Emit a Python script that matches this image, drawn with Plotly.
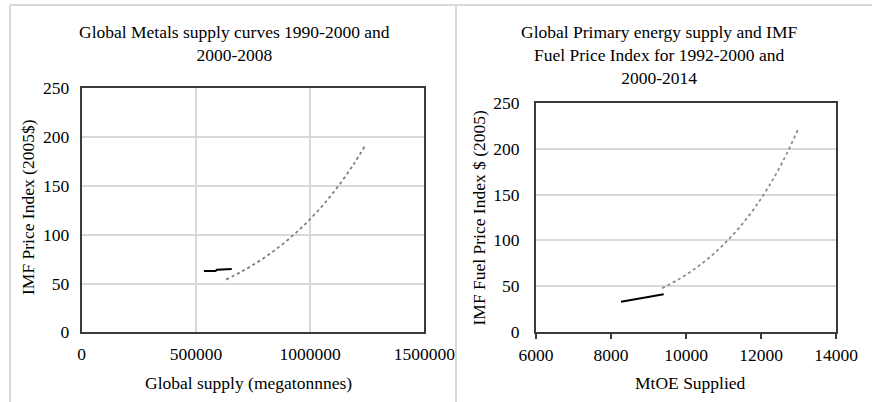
import plotly.graph_objects as go

W, H = 872, 402

# ---- Data: left panel (metals) ----
metals_early_x = [535000, 586000, 592000, 657000]
metals_early_y = [62.8, 62.8, 64.0, 64.8]
metals_late_x = [632000, 700000, 770000, 840000, 910000, 980000, 1050000, 1120000, 1190000, 1243000]
metals_late_y = [54, 62.2, 71.9, 83.2, 96.2, 111.2, 128.6, 148.7, 172, 192]

# ---- Data: right panel (energy) ----
energy_early_x = [8267, 9405]
energy_early_y = [32.8, 40.9]
energy_late_x = [9360, 9800, 10200, 10600, 11000, 11400, 11800, 12200, 12600, 13005]
energy_late_y = [47.5, 57.2, 67.8, 80.4, 95.3, 112.9, 133.8, 158.5, 187.8, 223]

left_xticks = [0, 500000, 1000000, 1500000]
left_xticklabels = ["0", "500000", "1000000", "1500000"]
yticks = [0, 50, 100, 150, 200, 250]
right_xticks = [6000, 8000, 10000, 12000, 14000]
right_xticklabels = ["6000", "8000", "10000", "12000", "14000"]

FONT = "Liberation Serif"
FS = 17.5
GRID = "#d9d9d9"
FRAME = "#3a3a3a"

def px(x):
    return x / W

def py(y):
    return 1 - y / H

fig = go.Figure()

fig.add_trace(go.Scatter(x=metals_early_x, y=metals_early_y, mode="lines",
                         line=dict(color="black", width=2), xaxis="x", yaxis="y", showlegend=False))
fig.add_trace(go.Scatter(x=metals_late_x, y=metals_late_y, mode="lines",
                         line=dict(color="#7f7f7f", width=1.8, dash="dot", shape="spline"),
                         xaxis="x", yaxis="y", showlegend=False))
fig.add_trace(go.Scatter(x=energy_early_x, y=energy_early_y, mode="lines",
                         line=dict(color="black", width=2), xaxis="x2", yaxis="y2", showlegend=False))
fig.add_trace(go.Scatter(x=energy_late_x, y=energy_late_y, mode="lines",
                         line=dict(color="#8c8c8c", width=1.8, dash="dot", shape="spline"),
                         xaxis="x2", yaxis="y2", showlegend=False))

tickfont = dict(family=FONT, size=FS, color="black")

fig.update_layout(
    width=W, height=H, autosize=False,
    margin=dict(l=0, r=0, t=0, b=0, autoexpand=False),
    paper_bgcolor="white", plot_bgcolor="white",
    font=dict(family=FONT, size=FS, color="black"),
    xaxis=dict(domain=[px(81.7), px(424.3)], range=[0, 1500000], tickvals=left_xticks,
               ticktext=left_xticklabels, showgrid=True, gridcolor=GRID, gridwidth=1.5,
               showline=True, linecolor=FRAME, linewidth=2, mirror=True, zeroline=False,
               ticks="", tickfont=tickfont, anchor="y", ticklabelstandoff=5, automargin=False),
    yaxis=dict(domain=[py(332.3), py(88.3)], range=[0, 250], tickvals=yticks,
               showgrid=True, gridcolor=GRID, gridwidth=1.5,
               showline=True, linecolor=FRAME, linewidth=2, mirror=True, zeroline=False,
               ticks="", tickfont=tickfont, anchor="x", ticklabelstandoff=7, automargin=False),
    xaxis2=dict(domain=[px(536), px(836)], range=[6000, 14000], tickvals=right_xticks,
                ticktext=right_xticklabels,
                showgrid=False, showline=True, linecolor=FRAME, linewidth=2, mirror=True,
                zeroline=False, ticks="outside", ticklen=5, tickwidth=1.5, tickcolor=FRAME,
                tickfont=tickfont, anchor="y2", ticklabelstandoff=1, automargin=False),
    yaxis2=dict(domain=[py(331.7), py(103.3)], range=[0, 250], tickvals=yticks,
                showgrid=True, gridcolor=GRID, gridwidth=1.5,
                showline=True, linecolor=FRAME, linewidth=2, mirror=True, zeroline=False,
                ticks="", tickfont=tickfont, anchor="x2", ticklabelstandoff=11, automargin=False),
)

shapes = [
    dict(type="line", xref="paper", yref="paper", x0=px(10), x1=1, y0=py(5), y1=py(5),
         line=dict(color=GRID, width=2)),
    dict(type="line", xref="paper", yref="paper", x0=px(10), x1=px(10), y0=py(5), y1=0,
         line=dict(color=GRID, width=2)),
    dict(type="line", xref="paper", yref="paper", x0=px(456), x1=px(456), y0=py(5), y1=0,
         line=dict(color=GRID, width=2)),
]
fig.update_layout(shapes=shapes)

ann = [
    dict(text="Global Metals supply curves 1990-2000 and<br>2000-2008", x=px(234.5), y=py(43.5)),
    dict(text="Global Primary energy supply and IMF<br>Fuel Price Index for 1992-2000 and<br>2000-2014",
         x=px(659), y=py(55)),
    dict(text="Global supply (megatonnnes)", x=px(248), y=py(383)),
    dict(text="MtOE Supplied", x=px(690), y=py(383)),
    dict(text="IMF Price Index (2005$)", x=px(28), y=py(207), textangle=-90),
    dict(text="IMF Fuel Price Index $ (2005)", x=px(479), y=py(217.5), textangle=-90),
]
for a in ann:
    fig.add_annotation(xref="paper", yref="paper", showarrow=False, xanchor="center",
                       yanchor="middle", font=dict(family=FONT, size=FS, color="black"), **a)

fig.write_html("out.html")
